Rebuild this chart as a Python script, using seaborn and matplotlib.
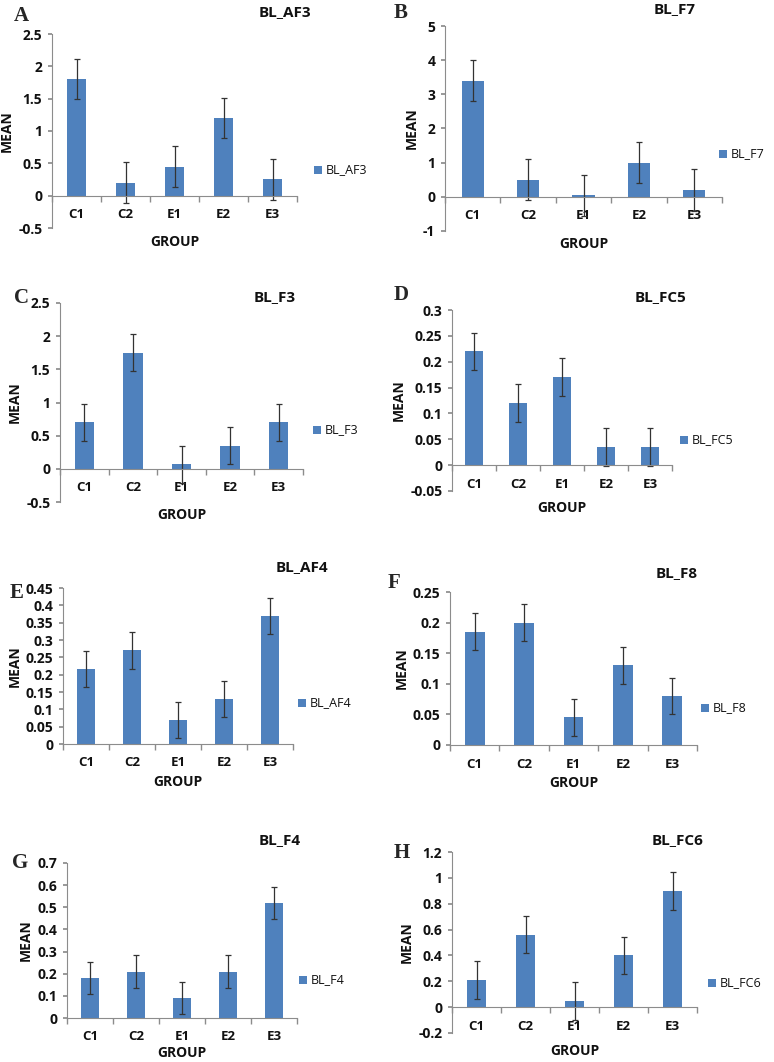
import matplotlib
matplotlib.use("Agg")
import matplotlib.pyplot as plt
import seaborn as sns
import numpy as np

groups = ["C1", "C2", "E1", "E2", "E3"]

af3_mean = [1.8, 0.2, 0.45, 1.2, 0.25]
af3_err = [0.31, 0.32, 0.32, 0.31, 0.32]
f7_mean = [3.4, 0.5, 0.05, 1.0, 0.2]
f7_err = [0.6, 0.6, 0.6, 0.6, 0.62]
f3_mean = [0.7, 1.75, 0.07, 0.35, 0.7]
f3_err = [0.28, 0.28, 0.28, 0.28, 0.28]
fc5_mean = [0.22, 0.12, 0.17, 0.035, 0.035]
fc5_err = [0.036, 0.037, 0.037, 0.037, 0.037]
af4_mean = [0.215, 0.27, 0.07, 0.13, 0.37]
af4_err = [0.052, 0.053, 0.052, 0.053, 0.052]
f8_mean = [0.185, 0.2, 0.045, 0.13, 0.08]
f8_err = [0.03, 0.03, 0.03, 0.03, 0.03]
f4_mean = [0.18, 0.21, 0.09, 0.21, 0.52]
f4_err = [0.073, 0.073, 0.073, 0.073, 0.073]
fc6_mean = [0.21, 0.56, 0.05, 0.4, 0.9]
fc6_err = [0.145, 0.145, 0.148, 0.145, 0.145]

# letter, title, means, errs, ymin, ymax, step
panels = [
    ("A", "BL_AF3", af3_mean, af3_err, -0.5, 2.5, 0.5),
    ("B", "BL_F7", f7_mean, f7_err, -1, 5, 1),
    ("C", "BL_F3", f3_mean, f3_err, -0.5, 2.5, 0.5),
    ("D", "BL_FC5", fc5_mean, fc5_err, -0.05, 0.3, 0.05),
    ("E", "BL_AF4", af4_mean, af4_err, 0, 0.45, 0.05),
    ("F", "BL_F8", f8_mean, f8_err, 0, 0.25, 0.05),
    ("G", "BL_F4", f4_mean, f4_err, 0, 0.7, 0.1),
    ("H", "BL_FC6", fc6_mean, fc6_err, -0.2, 1.2, 0.2),
]

# pixel layout: axes (left, top, right, bottom), GROUP y, title (x, y),
# legend (x, y), letter (x, y)
layout = [
    ((52, 34, 297, 228), 242, (285, 12), (318, 170), (14, 16)),
    ((445, 26, 722, 231), 244, (675, 9), (723, 154), (394, 13)),
    ((60, 303, 303, 502), 515, (275, 297), (317, 430), (14, 298)),
    ((452, 310, 672, 491), 508, (660, 297), (684, 440), (394, 295)),
    ((63, 588, 293, 744), 782, (302, 567), (302, 703), (10, 593)),
    ((450, 592, 697, 745), 783, (677, 573), (705, 708), (388, 583)),
    ((67, 863, 297, 1018), 1053, (280, 840), (303, 980), (12, 863)),
    ((452, 852, 697, 1033), 1051, (678, 840), (712, 983), (394, 853)),
]

W, H = 774, 1062
bar_color = "#4F81BD"
axis_gray = "#8c8c8c"
ink = "#111111"
sns.set_theme(style="white")
plt.rcParams["font.family"] = ["Open Sans", "DejaVu Sans"]

fig = plt.figure(figsize=(W / 100, H / 100), dpi=100)


def fmt(v):
    s = f"{v:.2f}".rstrip("0").rstrip(".")
    if s in ("-0", ""):
        s = "0"
    return s


axes = []
for (letter, title, means, errs, ymin, ymax, step), lay in zip(panels, layout):
    (l, t, r, b), gy, (tx, ty), (lx, ly), (cx, cy) = lay
    ax = fig.add_axes([l / W, 1 - b / H, (r - l) / W, (b - t) / H])
    axes.append(ax)
    sns.barplot(x=groups, y=means, color=bar_color, width=0.4, ax=ax,
                errorbar=None, saturation=1, linewidth=0)
    ax.errorbar(range(len(groups)), means, yerr=errs, fmt="none",
                ecolor="#333333", elinewidth=0.9, capsize=2, capthick=0.9)
    ax.set_xlim(-0.5, len(groups) - 0.5)
    ax.set_ylim(ymin, ymax)
    for s in ("top", "right"):
        ax.spines[s].set_visible(False)
    for s in ("left", "bottom"):
        ax.spines[s].set_color(axis_gray)
        ax.spines[s].set_linewidth(0.8)
    ax.spines["bottom"].set_position(("data", 0))
    ax.set_xticks(np.arange(-0.5, len(groups), 1.0), minor=True)
    ax.tick_params(axis="x", which="major", length=0, pad=9,
                   labelsize=9.5, labelcolor=ink)
    ax.tick_params(axis="x", which="minor", length=4, color=axis_gray,
                   direction="out", bottom=True)
    ax.tick_params(axis="y", length=3, color=axis_gray, direction="out",
                   left=True, pad=4, labelsize=10, labelcolor=ink)
    ticks = np.arange(ymin, ymax + step / 2, step)
    ax.set_yticks(ticks)
    ax.set_yticklabels([fmt(v) for v in ticks])
    ax.set_xticks(range(len(groups)))
    ax.set_xticklabels(groups)
    ax.set_xlabel("GROUP", fontsize=10, fontweight="bold", color=ink)
    ax.xaxis.set_label_coords(0.5, (b - gy) / (b - t))
    ax.xaxis.label.set_va("center")
    ax.set_ylabel("MEAN", fontsize=10, fontweight="bold", labelpad=3,
                  color=ink)

    fig.text(tx / W, 1 - ty / H, title, ha="center", va="center",
             fontsize=11, fontweight="bold", color=ink)
    fig.text(cx / W, 1 - cy / H, letter, ha="left", va="center",
             fontsize=15, fontweight="bold", family="Liberation Serif")
    fig.patches.append(plt.Rectangle(((lx - 4) / W, 1 - (ly + 4) / H),
                                     8 / W, 8 / H, transform=fig.transFigure,
                                     facecolor=bar_color, edgecolor="none"))
    fig.text((lx + 8) / W, 1 - ly / H, title, ha="left", va="center",
             fontsize=9, color=ink)

fig.canvas.draw()
for ax in axes:
    for lab in ax.get_xticklabels() + ax.get_yticklabels():
        lab.set_fontweight("bold")

fig.savefig("out.png", dpi=100)
